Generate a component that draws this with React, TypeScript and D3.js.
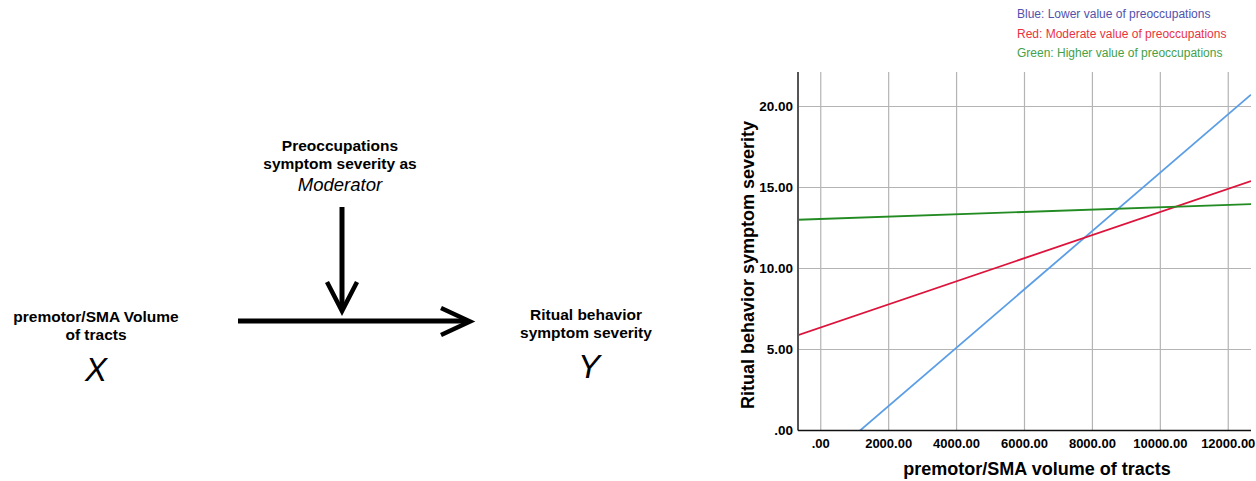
import React from 'react';
import * as d3 from 'd3';

const W = 1256;
const H = 481;
const FONT = "'Liberation Sans', Arial, sans-serif";

// simple slopes, at the left and right edge of the x range
const xEnds = [-670, 12670];
const blueLine = [-3.29, 20.73];
const redLine = [5.88, 15.4];
const greenLine = [13.01, 13.97];

const xTicks = [0, 2000, 4000, 6000, 8000, 10000, 12000];
const yTicks = [0, 5, 10, 15, 20];

const legendItems = [
    { text: 'Blue: Lower value of preoccupations', color: '#5252ad' },
    { text: 'Red: Moderate value of preoccupations', color: '#e8333f' },
    { text: 'Green: Higher value of preoccupations', color: '#45a047' },
];

const series = [
    { key: 'blue', values: blueLine, color: '#5b9ee6' },
    { key: 'red', values: redLine, color: '#dc143c' },
    { key: 'green', values: greenLine, color: '#228b22' },
];

const fmt = (v: number) => (v === 0 ? '.00' : v.toFixed(2));

const App = () => {
    const plot = { left: 798, right: 1251, top: 72, bottom: 430.5 };
    const x = d3.scaleLinear([-670, 12670], [plot.left, plot.right]);
    const y = d3.scaleLinear([0, 22.13], [plot.bottom, plot.top]);
    const line = d3
        .line<[number, number]>()
        .x(d => x(d[0]))
        .y(d => y(d[1]));

    return (
        <div style={{ position: 'absolute', left: 0, top: 0 }}>
            <svg width={W} height={H} style={{ display: 'block', fontFamily: FONT }}>
                <rect width={W} height={H} fill='#fff' />

                {/* moderation diagram */}
                <g fontWeight='bold' fontSize={15.5} textAnchor='middle' fill='#000'>
                    <text x={340} y={150.5}>Preoccupations</text>
                    <text x={340} y={169}>symptom severity as</text>
                    <text x={340} y={191} fontWeight='normal' fontStyle='italic' fontSize={18.5}>
                        Moderator
                    </text>
                    <text x={96} y={321.5}>premotor/SMA Volume</text>
                    <text x={96} y={339.5}>of tracts</text>
                    <text x={96} y={381} fontWeight='normal' fontStyle='italic' fontSize={33}>
                        X
                    </text>
                    <text x={586} y={319.5}>Ritual behavior</text>
                    <text x={586} y={337.5}>symptom severity</text>
                    <text x={589} y={378} fontWeight='normal' fontStyle='italic' fontSize={33}>
                        Y
                    </text>
                </g>
                <g stroke='#000' strokeWidth={5} fill='none'>
                    <line x1={342} y1={207} x2={342} y2={310} />
                    <polyline points='327,282 342,311 357,282' strokeWidth={4.5} />
                    <line x1={238} y1={321} x2={468} y2={321} />
                    <polyline points='441,308 470,321.5 441,335' strokeWidth={4.5} />
                </g>

                {/* legend */}
                <g fontSize={12}>
                    {legendItems.map((d, i) => (
                        <text key={d.text} x={1017} y={18 + i * 19.5} fill={d.color}>
                            {d.text}
                        </text>
                    ))}
                </g>

                {/* grid */}
                <g stroke='#b4b4b4' strokeWidth={1.2}>
                    {xTicks.map(t => (
                        <line key={t} x1={x(t)} x2={x(t)} y1={plot.top} y2={plot.bottom} />
                    ))}
                    {yTicks.map(t => (
                        <line key={t} x1={plot.left} x2={plot.right} y1={y(t)} y2={y(t)} />
                    ))}
                </g>

                <defs>
                    <clipPath id='plotClip'>
                        <rect
                            x={plot.left}
                            y={plot.top}
                            width={plot.right - plot.left}
                            height={plot.bottom - plot.top}
                        />
                    </clipPath>
                </defs>
                <g clipPath='url(#plotClip)' fill='none' strokeWidth={1.8}>
                    {series.map(s => (
                        <path
                            key={s.key}
                            d={line(xEnds.map((xv, i) => [xv, s.values[i]]) as [number, number][]) || ''}
                            stroke={s.color}
                        />
                    ))}
                </g>

                {/* axes */}
                <line x1={plot.left} x2={plot.left} y1={plot.top} y2={plot.bottom} stroke='#555' strokeWidth={2} />
                <line x1={plot.left} x2={plot.right} y1={plot.bottom} y2={plot.bottom} stroke='#111' strokeWidth={1.6} />

                <g fontWeight='bold' fontSize={13} fill='#000'>
                    {yTicks.map(t => (
                        <text key={t} x={793} y={y(t) + 4.5} fontSize={13.5} textAnchor='end'>
                            {fmt(t)}
                        </text>
                    ))}
                    {xTicks.map(t => (
                        <text key={t} x={x(t)} y={448} textAnchor='middle'>
                            {fmt(t)}
                        </text>
                    ))}
                </g>

                <text x={1037} y={475} textAnchor='middle' fontWeight='bold' fontSize={18}>
                    premotor/SMA volume of tracts
                </text>
                <text
                    transform={`translate(754,265) rotate(-90)`}
                    textAnchor='middle'
                    fontWeight='bold'
                    fontSize={18}
                >
                    Ritual behavior symptom severity
                </text>
            </svg>
        </div>
    );
};

export default App;
